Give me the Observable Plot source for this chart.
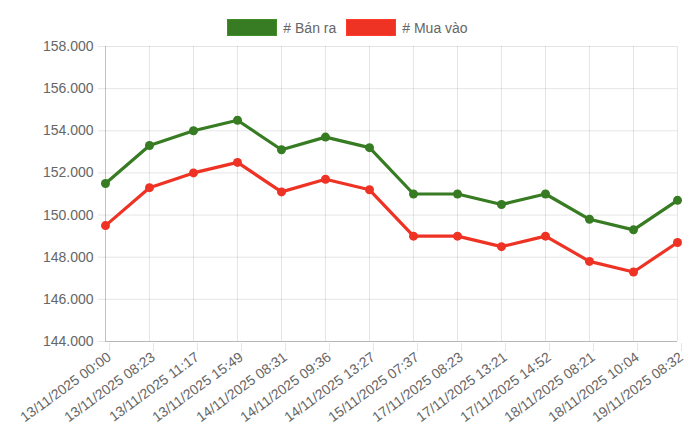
<!DOCTYPE html>
<html>
<head>
<meta charset="utf-8">
<script src="https://cdn.jsdelivr.net/npm/d3@7"></script>
<script src="https://cdn.jsdelivr.net/npm/@observablehq/plot@0.6"></script>
<style>
  html, body { margin: 0; padding: 0; background: #fff; }
  body { width: 700px; height: 439px; overflow: hidden; font-family: "Liberation Sans", Arial, Helvetica, sans-serif; }
  #legend { height: 36px; display: flex; justify-content: center; align-items: flex-start; padding-top: 19px; box-sizing: border-box; font-size: 14px; color: #666; padding-right: 5px; }
  .item { display: flex; align-items: center; margin: 0 5px; height: 17px; }
  .sw { width: 48px; height: 15px; margin-right: 6px; border: 1px solid; }
  #chart svg { display: block; }
</style>
</head>
<body>
<div id="legend"></div>
<div id="chart"></div>
<script>
const labels = [
  "13/11/2025 00:00", "13/11/2025 08:23", "13/11/2025 11:17", "13/11/2025 15:49",
  "14/11/2025 08:31", "14/11/2025 09:36", "14/11/2025 13:27", "15/11/2025 07:37",
  "17/11/2025 08:23", "17/11/2025 13:21", "17/11/2025 14:52", "18/11/2025 08:21",
  "18/11/2025 10:04", "19/11/2025 08:32"
];
const banRa = [151500, 153300, 154000, 154500, 153100, 153700, 153200, 151000, 151000, 150500, 151000, 149800, 149300, 150700];
const muaVao = [149500, 151300, 152000, 152500, 151100, 151700, 151200, 149000, 149000, 148500, 149000, 147800, 147300, 148700];
const seriesNames = ["# Bán ra", "# Mua vào"];
const seriesColors = ["#377b22", "#ee3325"];
const yTicks = [144000, 146000, 148000, 150000, 152000, 154000, 156000, 158000];

const data = [];
labels.forEach((l, i) => {
  data.push({label: l, value: banRa[i], series: seriesNames[0]});
  data.push({label: l, value: muaVao[i], series: seriesNames[1]});
});

const legend = document.getElementById("legend");
seriesNames.forEach((n, i) => {
  const it = document.createElement("div");
  it.className = "item";
  const sw = document.createElement("span");
  sw.className = "sw";
  sw.style.background = seriesColors[i];
  sw.style.borderColor = d3.color(seriesColors[i]).brighter(0.4).formatHex();
  const t = document.createElement("span");
  t.textContent = n;
  it.appendChild(sw); it.appendChild(t);
  legend.appendChild(it);
});

const fmt = d => d3.format(",")(d).replace(/,/g, ".");
const gridColor = "rgba(0,0,0,0.1)";

const chart = Plot.plot({
  width: 700,
  height: 403,
  marginTop: 10,
  marginLeft: 105,
  marginRight: 23,
  marginBottom: 98,
  style: {fontFamily: "'Liberation Sans', Arial, Helvetica, sans-serif", fontSize: "14px", color: "#666", background: "#fff"},
  x: {type: "point", domain: labels, padding: 0, label: null},
  y: {domain: [144000, 158000], label: null},
  color: {domain: seriesNames, range: seriesColors},
  marks: [
    Plot.ruleY(yTicks, {y: d => d, stroke: gridColor, strokeWidth: 1}),
    Plot.ruleX(labels, {x: d => d, y1: 144000, y2: 158000, stroke: gridColor}),
    Plot.axisY({ticks: yTicks, tickFormat: fmt, tickSize: 7, tickPadding: 5, stroke: gridColor, fill: "#666", fontSize: 14, label: null}),
    Plot.axisX({ticks: labels, tickRotate: -36, tickSize: 8, tickPadding: 4, stroke: gridColor, fill: "#666", fontSize: 14, label: null, dx: 4, dy: 2}),
    Plot.ruleY([144000], {stroke: "rgba(0,0,0,0.2)"}),
    Plot.ruleX([labels[0]], {stroke: "rgba(0,0,0,0.15)"}),
    Plot.line(data, {x: "label", y: "value", z: "series", stroke: "series", strokeWidth: 3.2, curve: "linear"}),
    Plot.dot(data, {x: "label", y: "value", fill: "series", r: 4.5, stroke: "none"})
  ]
});
document.getElementById("chart").appendChild(chart);
</script>
</body>
</html>
